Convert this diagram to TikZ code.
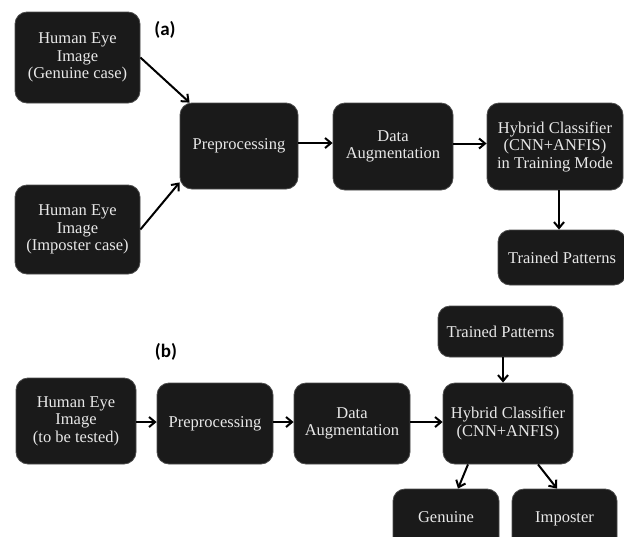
\documentclass[tikz,border=0pt]{standalone}
\usepackage{fontspec}
\setmainfont{Liberation Serif}
\newfontfamily\labelfont{Carlito}
\usetikzlibrary{arrows.meta}
\definecolor{boxfill}{HTML}{1A1A1A}
\definecolor{boxtext}{HTML}{E8E8E8}
\tikzset{
  blk/.style={rectangle, rounded corners=12pt, fill=boxfill, draw=black!70, line width=0.8pt,
    text=boxtext, align=center, inner sep=0pt,
    font=\fontsize{16.5}{17.5}\selectfont},
  arr/.style={draw=black, line width=2pt, -{Straight Barb[length=6pt,width=10pt,line width=2pt]}},
  tag/.style={font=\labelfont\bfseries\fontsize{19}{22}\selectfont, text=black, inner sep=0pt}
}
\begin{document}
\begin{tikzpicture}[x=1pt,y=-1pt]
\useasboundingbox (0,0) rectangle (624,536);
\clip (0,0) rectangle (624,536);
% (a)
\node[tag] (la) at (165,30) {(a)};
\node[blk, minimum width=125pt, minimum height=91pt] (gena) at (77.5,57.5) {Human Eye\\Image\\(Genuine case)};
\node[blk, minimum width=125pt, minimum height=89pt] (impa) at (77.5,229.5) {Human Eye\\Image\\(Imposter case)};
\node[blk, minimum width=118pt, minimum height=86pt] (prea) at (239,146) {\raisebox{-3pt}{Preprocessing}};
\node[blk, minimum width=120pt, minimum height=87pt] (auga) at (393,146.5) {Data\\Augmentation};
\node[blk, minimum width=136pt, minimum height=87pt] (hyba) at (555,146.5) {Hybrid Classifier\\(CNN+ANFIS)\\in Training Mode};
\node[blk, minimum width=128pt, minimum height=55pt] (trna) at (562,257.5) {Trained Patterns};
\draw[arr] (gena.east) -- ([xshift=10pt]prea.north west);
\draw[arr] (impa.east) -- ([yshift=7pt]prea.south west);
\draw[arr] ([yshift=3pt]prea.east) -- ([yshift=3pt]prea.east -| auga.west);
\draw[arr] ([yshift=3pt]auga.east) -- ([yshift=3pt]auga.east -| hyba.west);
\draw[arr] ([xshift=4pt]hyba.south) -- ([xshift=4pt]hyba.south |- trna.north);
% (b)
\node[tag] (lb) at (166,352) {(b)};
\node[blk, minimum width=120pt, minimum height=86pt] (eyeb) at (76,421) {Human Eye\\Image\\(to be tested)};
\node[blk, minimum width=116pt, minimum height=81pt] (preb) at (215,423.5) {Preprocessing};
\node[blk, minimum width=116pt, minimum height=81pt] (augb) at (352,423.5) {Data\\Augmentation};
\node[blk, minimum width=130pt, minimum height=81pt] (hybb) at (508,423.5) {Hybrid Classifier\\(CNN+ANFIS)};
\node[blk, minimum width=125pt, minimum height=51pt] (trnb) at (500.5,331.5) {Trained Patterns};
\node[blk, minimum width=106pt, minimum height=60pt] (genb) at (446,519) {\raisebox{4pt}{Genuine}};
\node[blk, minimum width=105pt, minimum height=60pt] (impb) at (564.5,519) {\raisebox{4pt}{Imposter}};
\draw[arr] ([yshift=-1pt]eyeb.east) -- ([yshift=-1pt]eyeb.east -| preb.west);
\draw[arr] ([yshift=1.5pt]preb.east) -- ([yshift=1.5pt]preb.east -| augb.west);
\draw[arr] ([yshift=1.5pt]augb.east) -- ([yshift=1.5pt]augb.east -| hybb.west);
\draw[arr] ([xshift=2.5pt]trnb.south) -- ([xshift=2.5pt]trnb.south |- hybb.north);
\draw[arr] ([xshift=-40pt]hybb.south) -- ([xshift=12pt]genb.north);
\draw[arr] ([xshift=30pt]hybb.south) -- ([xshift=-7.5pt]impb.north);
\end{tikzpicture}
\end{document}
